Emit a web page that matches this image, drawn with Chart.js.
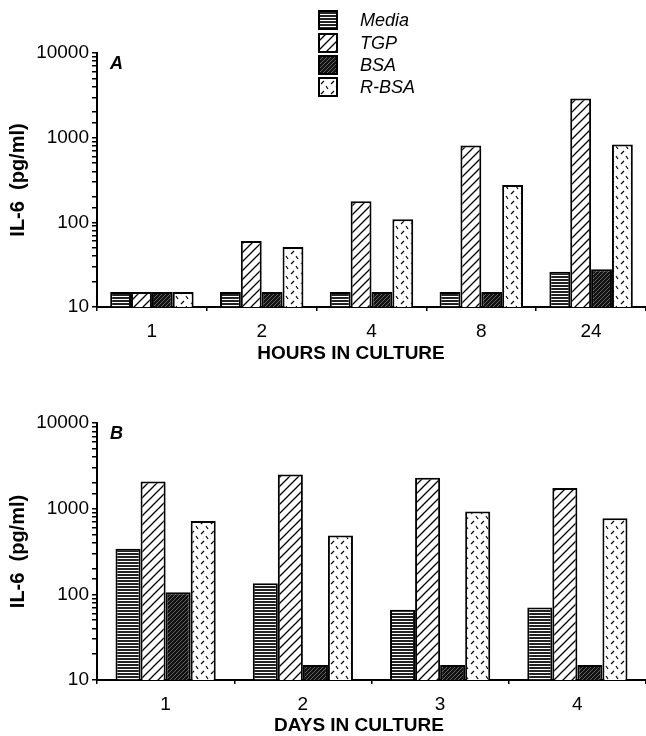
<!DOCTYPE html>
<html>
<head>
<meta charset="utf-8">
<script src="https://cdn.jsdelivr.net/npm/chart.js@4.4.1/dist/chart.umd.min.js"></script>
<style>
  body { margin: 0; background: #fff; }
  #wrapA { position: absolute; left: 0; top: 0; width: 646px; height: 370px; }
  #wrapB { position: absolute; left: 0; top: 370px; width: 646px; height: 366px; }
</style>
</head>
<body>
<div id="wrapA"><canvas id="chartA"></canvas></div>
<div id="wrapB"><canvas id="chartB"></canvas></div>
<script>
// Data
const seriesNames = ['Media', 'TGP', 'BSA', 'R-BSA'];

const hourLabels = ['1', '2', '4', '8', '24'];
const hourMedia = [15, 15, 15, 15, 26];
const hourTGP = [15, 60, 177, 810, 2900];
const hourBSA = [15, 15, 15, 15, 28];
const hourRBSA = [15, 51, 109, 276, 830];

const dayLabels = ['1', '2', '3', '4'];
const dayMedia = [340, 135, 66, 70];
const dayTGP = [2075, 2500, 2300, 1740];
const dayBSA = [106, 15, 15, 15];
const dayRBSA = [720, 485, 925, 775];

const yTickLabels = [10, 100, 1000, 10000];

const FONT = '"Liberation Sans", Arial, Helvetica, sans-serif';
Chart.defaults.font.family = FONT;
Chart.defaults.color = '#000';

// Fill patterns for the four series
function makePattern(size, draw) {
  const c = document.createElement('canvas');
  c.width = size;
  c.height = size;
  const g = c.getContext('2d');
  draw(g, size);
  return g.createPattern(c, 'repeat');
}

const patterns = [
  // Media: horizontal stripes
  makePattern(3, (g, s) => {
    g.fillStyle = '#fff';
    g.fillRect(0, 0, s, s);
    g.fillStyle = '#222';
    g.fillRect(0, 0, s, 2);
  }),
  // TGP: diagonal lines on white
  makePattern(9, (g, s) => {
    g.fillStyle = '#fff';
    g.fillRect(0, 0, s, s);
    g.strokeStyle = '#000';
    g.lineWidth = 1.3;
    g.beginPath();
    g.moveTo(0, s); g.lineTo(s, 0);
    g.moveTo(-1, 1); g.lineTo(1, -1);
    g.moveTo(s - 1, s + 1); g.lineTo(s + 1, s - 1);
    g.stroke();
  }),
  // BSA: dark with faint diagonals
  makePattern(4, (g, s) => {
    g.fillStyle = '#111';
    g.fillRect(0, 0, s, s);
    g.strokeStyle = '#777';
    g.lineWidth = 0.8;
    g.beginPath();
    g.moveTo(0, s); g.lineTo(s, 0);
    g.stroke();
  }),
  // R-BSA: short dashes on white
  makePattern(10, (g, s) => {
    g.fillStyle = '#fff';
    g.fillRect(0, 0, s, s);
    g.strokeStyle = '#000';
    g.lineWidth = 1.2;
    g.beginPath();
    g.moveTo(1, 4); g.lineTo(4, 1);
    g.moveTo(6, 6); g.lineTo(8, 9);
    g.stroke();
  })
];

// Draws the panel letter, the x axis title, and the legend on panel A
const decorPlugin = {
  id: 'decor',
  afterDraw(chart, args, opts) {
    const ctx = chart.ctx;
    const area = chart.chartArea;
    ctx.save();
    ctx.fillStyle = '#000';
    ctx.textBaseline = 'middle';

    ctx.font = 'italic bold 18px ' + FONT;
    ctx.textAlign = 'left';
    ctx.fillText(opts.letter, area.left + 13, area.top + 11);

    ctx.font = 'bold 19px ' + FONT;
    ctx.textAlign = 'center';
    ctx.fillText(opts.xTitle, opts.xTitleX, opts.xTitleY);

    if (opts.legend) {
      const rowY = [20, 43, 65, 87];
      ctx.textAlign = 'left';
      chart.data.datasets.forEach((ds, i) => {
        ctx.fillStyle = ds.backgroundColor;
        ctx.fillRect(319, rowY[i] - 9, 18, 18);
        ctx.strokeStyle = '#000';
        ctx.lineWidth = 2;
        ctx.strokeRect(319, rowY[i] - 9, 18, 18);
        ctx.fillStyle = '#000';
        ctx.font = 'italic 18px ' + FONT;
        ctx.fillText(ds.label, 360, rowY[i] + 1);
      });
    }
    ctx.restore();
  }
};

function makeChart(canvasId, labels, values, xTitle, titlePos, letter, showLegend, catPct, xHeight, padBottom) {
  const ctx = document.getElementById(canvasId).getContext('2d');
  return new Chart(ctx, {
    type: 'bar',
    data: {
      labels: labels,
      datasets: values.map((v, i) => ({
        label: seriesNames[i],
        data: v,
        backgroundColor: patterns[i],
        borderColor: '#000',
        borderWidth: 2,
        borderSkipped: 'bottom',
        categoryPercentage: catPct,
        barPercentage: 1
      }))
    },
    options: {
      responsive: true,
      maintainAspectRatio: false,
      animation: false,
      layout: {
        padding: { top: 53, right: 0, bottom: padBottom, left: 0 }
      },
      plugins: {
        legend: { display: false },
        tooltip: { enabled: false },
        decor: { letter: letter, legend: showLegend, xTitle: xTitle, xTitleX: titlePos[0], xTitleY: titlePos[1] }
      },
      scales: {
        x: {
          border: { color: '#000', width: 2 },
          grid: { offset: true, drawOnChartArea: false, drawTicks: true, tickLength: 4, color: '#000', lineWidth: 1.5 },
          ticks: { color: '#000', font: { size: 19 }, padding: 9 },
          title: { display: false },
          afterFit: s => { s.height = xHeight; }
        },
        y: {
          type: 'logarithmic',
          min: 10,
          max: 10000,
          border: { color: '#000', width: 2 },
          grid: { drawOnChartArea: false, drawTicks: true, tickLength: 5, color: '#000', lineWidth: 1.5 },
          ticks: {
            autoSkip: false,
            color: '#000',
            font: { size: 19 },
            padding: 3,
            callback: v => yTickLabels.includes(v) ? String(v) : ''
          },
          title: { display: true, text: 'IL-6  (pg/ml)', color: '#000', font: { size: 20, weight: 'bold' }, padding: { top: 6, bottom: 0 } },
          afterFit: s => { s.width = 97; }
        }
      }
    },
    plugins: [decorPlugin]
  });
}

makeChart('chartA', hourLabels, [hourMedia, hourTGP, hourBSA, hourRBSA],
  'HOURS IN CULTURE', [351, 354], 'A', true, 0.76, 53, 10);
makeChart('chartB', dayLabels, [dayMedia, dayTGP, dayBSA, dayRBSA],
  'DAYS IN CULTURE', [359, 356], 'B', false, 0.73, 56, 0);
</script>
</body>
</html>
